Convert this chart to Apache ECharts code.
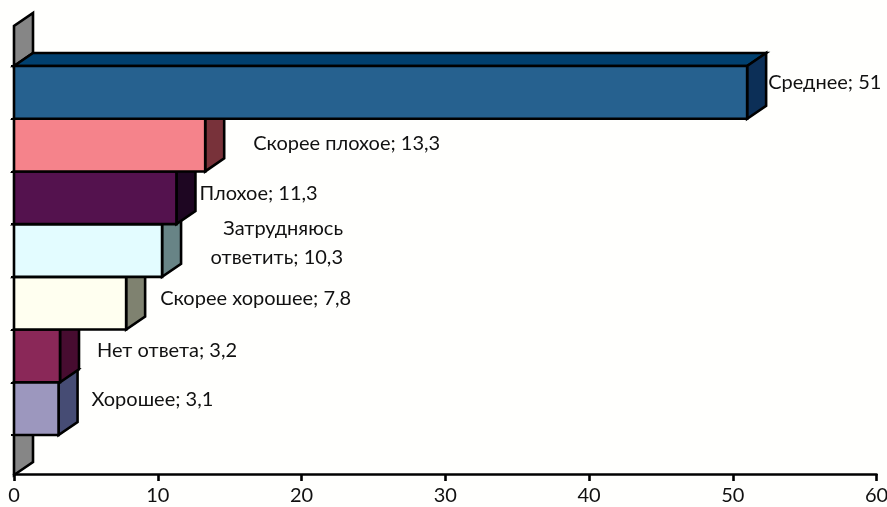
<!DOCTYPE html>
<html>
<head>
<meta charset="utf-8">
<script src="https://cdn.jsdelivr.net/npm/echarts@6/dist/echarts.min.js"></script>
<style>html,body{margin:0;padding:0;background:#FFFFFD}#c{width:887px;height:507px}</style>
</head>
<body>
<div id="c"></div>
<script>
// Bottom-to-top order: later bars are painted over the hidden faces of earlier ones.
const categories = ['Хорошее', 'Нет ответа', 'Скорее хорошее', 'Затрудняюсь ответить', 'Плохое', 'Скорее плохое', 'Среднее'];
const values = [3.1, 3.2, 7.8, 10.3, 11.3, 13.3, 51];
const valueTicks = [0, 10, 20, 30, 40, 50, 60];

const frontColors = ['#9C97BE', '#8A2858', '#FFFFF0', '#E3FCFF', '#54124E', '#F5838B', '#26618F'];
const sideColors = ['#464C74', '#470C30', '#7F8270', '#688486', '#1E0622', '#78323A', '#0C2F57'];
const topColors = ['#6F6C8E', '#5E1C40', '#BFBFB4', '#A8BDBF', '#360B33', '#B45F66', '#01406F'];
const labelOffsets = [[33, -9], [37, -5.5], [34, -5], [0, -7], [23, -4], [48, -2], [21, -9.5]];

const FONT_SIZE = 20;
const FONT_FAMILY = 'Lato, "Open Sans", sans-serif';
const FONT = FONT_SIZE + 'px ' + FONT_FAMILY;
const DX = 19, DY = 13, STROKE = { stroke: '#000', lineWidth: 2.6, lineJoin: 'miter' };

function poly(points, fill) {
  return { type: 'polygon', shape: { points }, style: Object.assign({ fill }, STROKE) };
}

function renderBar(params, api) {
  const i = params.dataIndex;
  const value = api.value(0);
  const end = api.coord([value, api.value(1)]);
  const x0 = api.coord([0, api.value(1)])[0];
  const h = api.size([0, 1])[1];
  const top = end[1] - h / 2, bot = end[1] + h / 2, x1 = end[0];
  const children = [
    poly([[x0, top], [x0 + DX, top - DY], [x1 + DX, top - DY], [x1, top]], topColors[i]),
    poly([[x1, top], [x1 + DX, top - DY], [x1 + DX, bot - DY], [x1, bot]], sideColors[i]),
    poly([[x0, top], [x1, top], [x1, bot], [x0, bot]], frontColors[i])
  ];
  const text = categories[i] === 'Затрудняюсь ответить'
    ? 'Затрудняюсь\nответить; ' + String(value).replace('.', ',')
    : categories[i] + '; ' + String(value).replace('.', ',');
  const off = labelOffsets[i];
  const multi = text.indexOf('\n') >= 0;
  children.push({
    type: 'text',
    style: {
      text,
      x: multi ? 343 : x1 + off[0],
      y: end[1] + off[1],
      align: multi ? 'right' : 'left',
      verticalAlign: 'middle',
      font: FONT,
      lineHeight: 29,
      fill: '#111'
    }
  });
  return { type: 'group', children };
}

function renderWalls(params, api) {
  const h = api.size([0, 1])[1];
  const x0 = api.coord([0, 0])[0];
  const yBot = api.coord([0, 0])[1] + h / 2;
  const yTop = api.coord([0, categories.length - 1])[1] - h / 2;
  const ext = 40;
  const wall = (a, b) => poly([[x0, a], [x0 + DX, a - DY], [x0 + DX, b - DY], [x0, b]], '#868686');
  return { type: 'group', children: [wall(yTop, yTop - ext), wall(yBot + ext, yBot)] };
}

const chart = echarts.init(document.getElementById('c'), null, { renderer: 'canvas' });
chart.setOption({
  animation: false,
  backgroundColor: '#FFFFFD',
  grid: { left: 14, right: 10.5, top: 66, bottom: 72, outerBoundsMode: 'none' },
  xAxis: {
    type: 'value', min: 0, max: 60, interval: 10, position: 'bottom', offset: 39,
    splitLine: { show: false },
    axisLine: { show: true, onZero: false, lineStyle: { color: '#000', width: 2.6 } },
    axisTick: { show: true, length: 7, lineStyle: { color: '#000', width: 2.6 } },
    axisLabel: { margin: 12, color: '#111', fontSize: FONT_SIZE, fontFamily: FONT_FAMILY, showMaxLabel: true, showMinLabel: true,
      hideOverlap: false,
      formatter: v => valueTicks.includes(v) ? String(v) : '' }
  },
  yAxis: {
    type: 'category', data: categories, position: 'left',
    axisLine: { show: true, onZero: false, lineStyle: { color: '#000', width: 2.6 } },
    axisTick: { show: true, length: 3, lineStyle: { color: '#000', width: 2 } },
    axisLabel: { show: false }, splitLine: { show: false }
  },
  series: [
    { type: 'custom', clip: false, z: 1, renderItem: renderWalls, data: [[0, 0]], encode: { x: 0, y: 1 }, silent: true },
    { type: 'custom', clip: false, z: 2, renderItem: renderBar,
      data: values.map((v, i) => [v, i]), encode: { x: 0, y: 1 } }
  ]
});
</script>
</body>
</html>
